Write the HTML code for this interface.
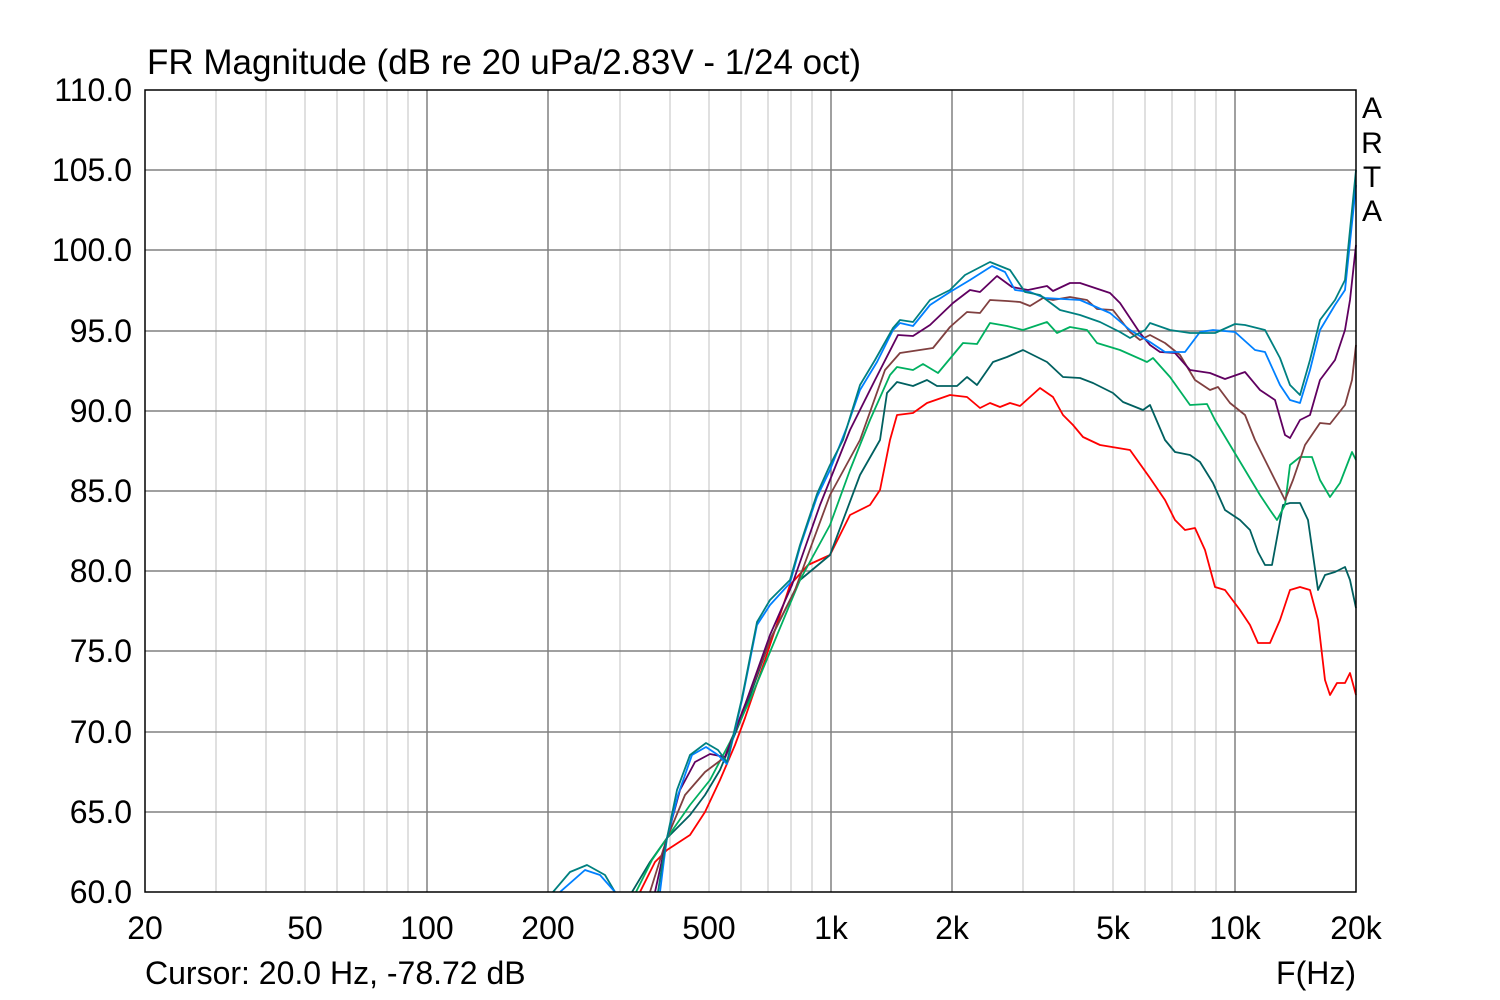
<!DOCTYPE html>
<html><head><meta charset="utf-8"><style>
html,body{margin:0;padding:0;background:#fff;}
svg{display:block;font-family:"Liberation Sans",sans-serif;}
</style></head><body>
<svg width="1500" height="1000" viewBox="0 0 1500 1000" xmlns="http://www.w3.org/2000/svg">
<rect width="1500" height="1000" fill="#fff"/>
<g stroke="#c0c0c0" stroke-width="1">
<line x1="216" y1="90" x2="216" y2="892"/><line x1="266" y1="90" x2="266" y2="892"/><line x1="305" y1="90" x2="305" y2="892"/><line x1="337" y1="90" x2="337" y2="892"/><line x1="364" y1="90" x2="364" y2="892"/><line x1="387" y1="90" x2="387" y2="892"/><line x1="408" y1="90" x2="408" y2="892"/>
<line x1="620" y1="90" x2="620" y2="892"/><line x1="670" y1="90" x2="670" y2="892"/><line x1="709" y1="90" x2="709" y2="892"/><line x1="741" y1="90" x2="741" y2="892"/><line x1="768" y1="90" x2="768" y2="892"/><line x1="791" y1="90" x2="791" y2="892"/><line x1="812" y1="90" x2="812" y2="892"/>
<line x1="1023" y1="90" x2="1023" y2="892"/><line x1="1074" y1="90" x2="1074" y2="892"/><line x1="1113" y1="90" x2="1113" y2="892"/><line x1="1145" y1="90" x2="1145" y2="892"/><line x1="1172" y1="90" x2="1172" y2="892"/><line x1="1195" y1="90" x2="1195" y2="892"/><line x1="1216" y1="90" x2="1216" y2="892"/>
</g>
<g stroke="#808080" stroke-width="1.5">
<line x1="427" y1="90" x2="427" y2="892"/><line x1="548" y1="90" x2="548" y2="892"/><line x1="831" y1="90" x2="831" y2="892"/><line x1="952" y1="90" x2="952" y2="892"/><line x1="1235" y1="90" x2="1235" y2="892"/>
<line x1="145" y1="170" x2="1356" y2="170"/><line x1="145" y1="250" x2="1356" y2="250"/><line x1="145" y1="331" x2="1356" y2="331"/><line x1="145" y1="411" x2="1356" y2="411"/><line x1="145" y1="491" x2="1356" y2="491"/><line x1="145" y1="571" x2="1356" y2="571"/><line x1="145" y1="651" x2="1356" y2="651"/><line x1="145" y1="732" x2="1356" y2="732"/><line x1="145" y1="812" x2="1356" y2="812"/>
</g>
<g fill="none" stroke-width="1.8" stroke-linejoin="round">
<polyline stroke="#ff0000" points="640,892 655,862 667,850 690,835 705,812 720,780 735,745 745,718 765,660 790,585 808,565 830,555 850,515 870,505 880,490 890,440 897,415 913,413 927,403 950,395 967,397 980,408 990,403 1000,407 1010,403 1020,406 1040,388 1053,397 1063,415 1073,425 1083,437 1100,445 1130,450 1150,478 1165,500 1175,520 1185,530 1195,528 1205,550 1215,587 1225,590 1240,610 1250,625 1258,643 1270,643 1280,620 1290,590 1300,587 1310,590 1318,620 1325,680 1330,695 1337,683 1345,683 1350,673 1356,695"/>
<polyline stroke="#006060" points="632,892 650,862 667,838 690,815 705,795 720,770 745,710 770,640 800,580 830,555 860,475 880,440 887,393 897,382 913,386 927,380 937,386 957,386 967,377 977,385 993,362 1007,357 1023,350 1047,362 1063,377 1080,378 1093,383 1113,393 1123,402 1143,410 1150,405 1165,440 1175,452 1190,455 1200,462 1213,483 1225,510 1240,520 1250,530 1258,552 1265,565 1272,565 1283,505 1290,503 1300,503 1308,520 1318,590 1325,575 1335,572 1345,567 1350,580 1356,608"/>
<polyline stroke="#00b060" points="636,892 652,860 667,838 690,805 710,780 730,742 750,700 775,640 800,580 830,525 850,470 870,420 890,375 897,367 913,370 923,364 938,373 963,343 977,344 990,323 1007,326 1023,330 1047,322 1057,333 1070,327 1087,330 1097,343 1120,350 1147,362 1153,358 1170,377 1190,405 1207,404 1215,420 1230,445 1245,470 1260,495 1270,510 1277,520 1285,505 1290,465 1300,457 1312,457 1320,480 1330,497 1340,483 1352,452 1356,460"/>
<polyline stroke="#804040" points="650,892 660,860 667,838 685,795 705,772 725,757 745,705 770,640 795,590 830,495 860,440 885,370 900,353 933,348 950,327 967,312 980,313 990,300 1007,301 1020,302 1030,306 1043,298 1053,300 1070,297 1087,300 1097,309 1113,310 1130,332 1140,340 1150,335 1165,343 1180,355 1195,380 1210,390 1218,387 1230,403 1245,415 1255,440 1265,460 1275,480 1285,500 1293,480 1305,445 1320,423 1330,424 1345,405 1352,380 1356,345"/>
<polyline stroke="#600060" points="655,892 662,860 667,838 680,790 695,762 710,754 725,757 745,705 770,635 792,585 820,505 850,430 875,380 898,335 913,336 930,325 953,303 970,290 980,292 997,276 1012,287 1028,290 1047,286 1053,291 1070,283 1080,283 1110,293 1120,303 1140,333 1150,345 1160,352 1175,353 1190,370 1210,373 1225,379 1245,372 1260,390 1275,400 1285,435 1290,438 1300,420 1310,415 1320,380 1335,360 1345,330 1350,300 1356,245"/>
<polyline stroke="#008080" points="553,892 570,872 587,865 605,875 615,892"/>
<polyline stroke="#0080ff" points="560,892 585,870 600,875 615,892"/>
<polyline stroke="#0080ff" points="660,892 664,860 667,838 678,795 692,755 706,747 718,755 727,764 742,700 757,625 770,605 790,583 800,547 817,497 830,470 847,427 860,390 877,362 893,330 900,323 913,326 930,305 950,292 970,280 992,266 1005,272 1015,290 1030,292 1045,298 1080,300 1110,313 1130,330 1150,342 1165,352 1185,352 1200,332 1213,330 1235,332 1255,350 1265,352 1280,385 1290,400 1300,403 1310,370 1320,330 1335,305 1345,290 1356,185"/>
<polyline stroke="#008080" points="658,892 663,860 667,838 677,790 690,755 706,743 718,750 727,762 742,698 757,622 770,600 790,580 800,545 817,494 830,465 843,440 860,385 875,360 893,328 900,320 913,322 930,300 950,290 965,275 990,262 1010,270 1025,292 1040,295 1060,310 1080,315 1100,322 1120,332 1130,338 1145,330 1150,323 1170,330 1190,333 1215,333 1235,324 1245,325 1265,330 1280,358 1290,385 1300,395 1310,360 1320,320 1335,300 1345,280 1356,170"/>
</g>
<rect x="145" y="90" width="1211" height="802" fill="none" stroke="#000" stroke-width="1.5"/>
<g font-size="32" fill="#000">
<text x="147" y="74" font-size="35">FR Magnitude (dB re 20 uPa/2.83V - 1/24 oct)</text>
<g text-anchor="end">
<text x="132" y="101">110.0</text><text x="132" y="181">105.0</text><text x="132" y="261">100.0</text><text x="132" y="342">95.0</text><text x="132" y="422">90.0</text><text x="132" y="502">85.0</text><text x="132" y="582">80.0</text><text x="132" y="662">75.0</text><text x="132" y="743">70.0</text><text x="132" y="823">65.0</text><text x="132" y="903">60.0</text>
</g>
<g text-anchor="middle">
<text x="145" y="939">20</text><text x="305" y="939">50</text><text x="427" y="939">100</text><text x="548" y="939">200</text><text x="709" y="939">500</text><text x="831" y="939">1k</text><text x="952" y="939">2k</text><text x="1113" y="939">5k</text><text x="1235" y="939">10k</text><text x="1356" y="939">20k</text>
<text x="1372" y="118" font-size="30">A</text><text x="1372" y="153" font-size="30">R</text><text x="1372" y="187" font-size="30">T</text><text x="1372" y="221" font-size="30">A</text>
</g>
<text x="145" y="984">Cursor: 20.0 Hz, -78.72 dB</text>
<text x="1356" y="984" text-anchor="end">F(Hz)</text>
</g>
</svg>
</body></html>
